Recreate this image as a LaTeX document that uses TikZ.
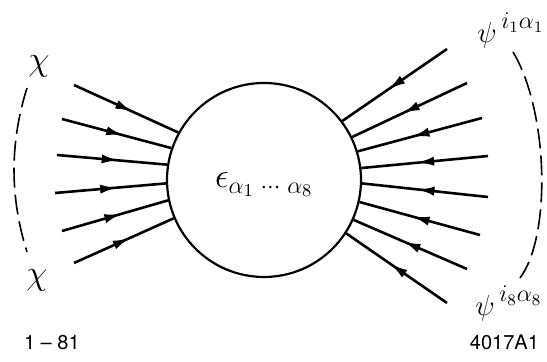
\documentclass[tikz,border=0pt]{standalone}
\usepackage{fontspec}
\setmainfont{TeX Gyre Heros}
\usetikzlibrary{decorations.markings,arrows.meta}

\begin{document}
\begin{tikzpicture}[
  x=0.5pt, y=-0.5pt,
  font=\fontsize{16}{19}\selectfont,
  linea/.style={line width=1.3pt, postaction={decorate},
    decoration={markings,
      mark=at position 0.56 with {\arrow{Latex[length=8.5pt,width=4.6pt]}}}},
  tratteggio/.style={line width=0.8pt, dash pattern=on 10pt off 3.5pt},
  sfera/.style={circle, draw, line width=1.1pt, minimum size=97pt, inner sep=0pt},
  sigla/.style={font=\fontsize{10}{12}\selectfont},
  campo/.style={anchor=base west, inner sep=0pt, font=\fontsize{14}{17}\selectfont}
]

\useasboundingbox (0,0) rectangle (547,362);

%--------------------------------------------------------------
% Vertice centrale
%--------------------------------------------------------------
\node[sfera] (blob) at (264,180) {};
\node[anchor=base west, font=\fontsize{18}{21}\selectfont] (eps) at (208,188)
  {$\epsilon_{\alpha_1\;\cdots\;\alpha_8}$};

%--------------------------------------------------------------
% Linee entranti: chi a sinistra, psi a destra
%--------------------------------------------------------------
\foreach \n/\px/\py/\ang in {1/74/85/151, 2/62/119/161, 3/57/155/171,
                             4/55/193/182, 5/62/231/192, 6/74/263/203} {
  \coordinate (sx\n) at (\px,\py);
  \draw[linea] (sx\n) -- (blob.\ang);
}

\foreach \n/\px/\py/\ang in {1/447/49/37, 2/467/83/26, 3/482/118/17,
                             4/488/156/7.5, 5/488/197/-2.5, 6/480/235/-13,
                             7/467/269/-24, 8/447/303/-33} {
  \coordinate (dx\n) at (\px,\py);
  \draw[linea] (dx\n) -- (blob.\ang);
}

%--------------------------------------------------------------
% Etichette e archi tratteggiati
%--------------------------------------------------------------
\node (chia) at (39,66) {$\chi$};
\node (chib) at (37,280) {$\chi$};
\draw[tratteggio] (27,88) .. controls (9.7,143) and (9.7,197) .. (27,252);

\node[campo] (psia) at (477,43)
  {$\psi$\,\raisebox{7pt}{\fontsize{12}{14}\selectfont$i_1\alpha_1$}};
\node[campo] (psib) at (475,316)
  {$\psi$\,\raisebox{7pt}{\fontsize{12}{14}\selectfont$i_8\alpha_8$}};
\draw[tratteggio] (513,52) .. controls (548,110) and (552,235) .. (520,278);

%--------------------------------------------------------------
% Sigle
%--------------------------------------------------------------
\node[sigla, anchor=base west] (data) at (17,350) {1 -- 81};
\node[sigla, anchor=base east] (codice) at (546,350) {4017A1};

\end{tikzpicture}
\end{document}
